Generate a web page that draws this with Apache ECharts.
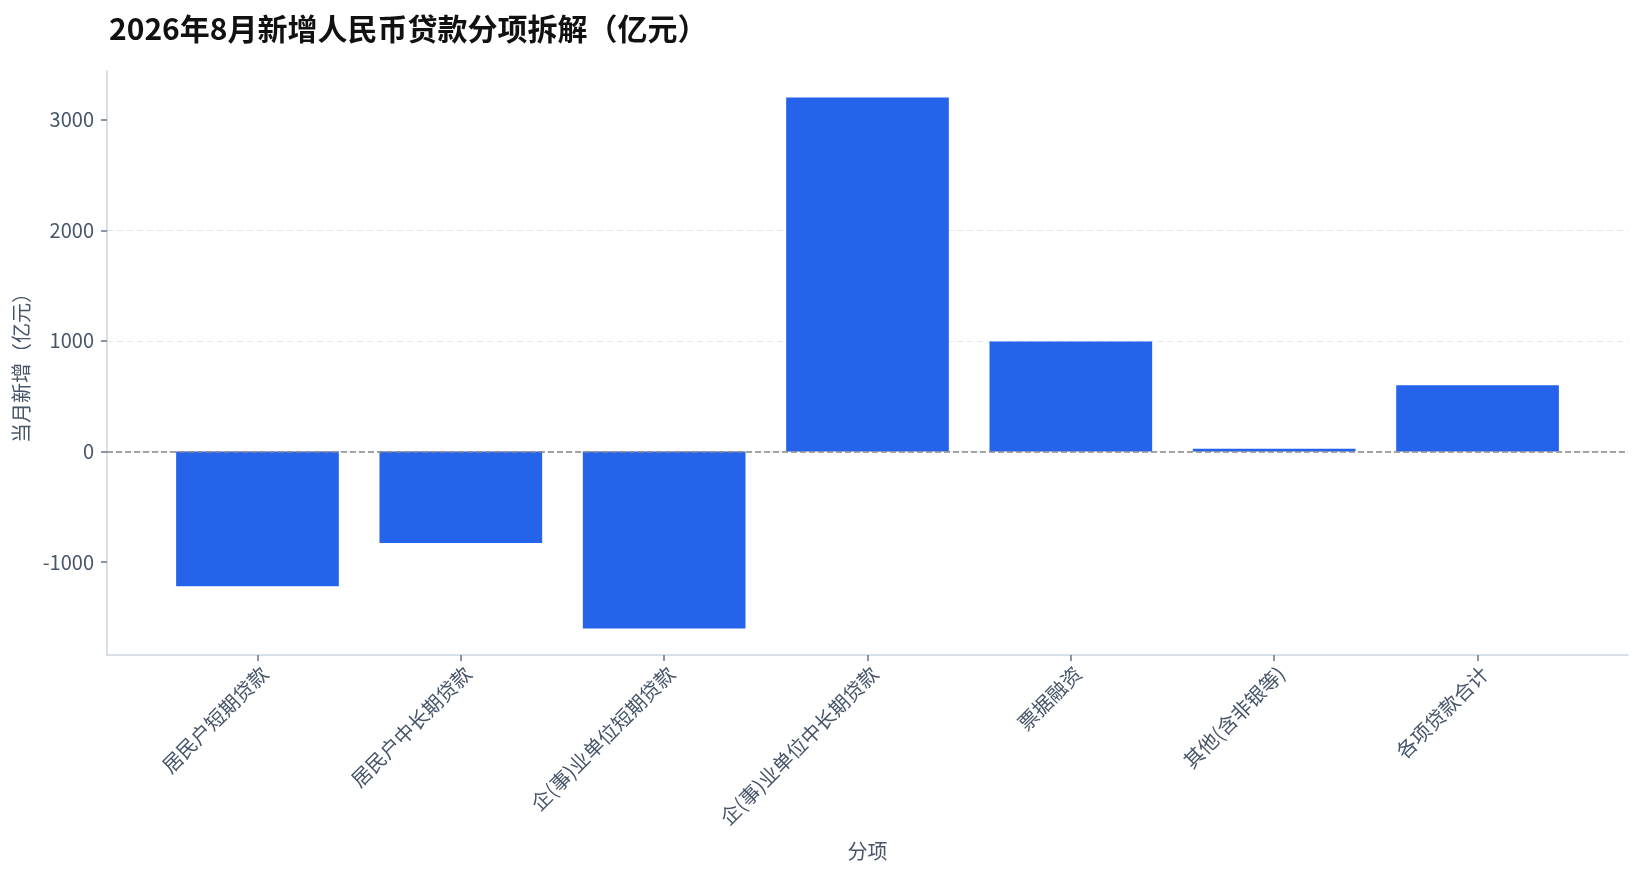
<!DOCTYPE html>
<html>
<head>
<meta charset="utf-8">
<script src="https://cdn.jsdelivr.net/npm/echarts@6/dist/echarts.min.js"></script>
<style>
html,body{margin:0;padding:0;background:#fff;}
#chart{width:1641px;height:878px;}
</style>
</head>
<body>
<div id="chart"></div>
<script>
const categories = ['居民户短期贷款','居民户中长期贷款','企(事)业单位短期贷款','企(事)业单位中长期贷款','票据融资','其他(含非银等)','各项贷款合计'];
const values = [-1218, -827, -1600, 3200, 995, 25, 598];
const yTicks = [-1000, 0, 1000, 2000, 3000];

const FONT = '"Noto Sans CJK SC", "Noto Sans", sans-serif';
const idx = categories.map((c, i) => i);
const chart = echarts.init(document.getElementById('chart'));
chart.setOption({
  backgroundColor: '#ffffff',
  animation: false,
  title: {
    text: '2026年8月新增人民币贷款分项拆解（亿元）',
    left: 104, top: 9,
    textStyle: { fontFamily: FONT, fontSize: 30, fontWeight: 'bold', color: '#111111' }
  },
  grid: { left: 107, right: 13, top: 71, bottom: 223, containLabel: false },
  xAxis: {
    type: 'value', min: -0.74, max: 6.74,
    name: '分项', nameLocation: 'middle', nameGap: 186,
    nameTextStyle: { fontFamily: FONT, fontSize: 20, color: '#475569' },
    axisLine: { show: true, onZero: false, lineStyle: { color: '#cbd5e1', width: 1.5 } },
    axisTick: { show: true, customValues: idx, length: 6, lineStyle: { color: '#64748b', width: 1.5 } },
    axisLabel: {
      customValues: idx, rotate: 45, margin: 8, verticalAlign: 'top',
      formatter: v => categories[Math.round(v)],
      fontFamily: FONT, fontSize: 20, color: '#475569'
    },
    splitLine: { show: false }
  },
  yAxis: {
    type: 'value', min: -1840, max: 3440,
    name: '当月新增（亿元）', nameLocation: 'middle', nameGap: 72, nameRotate: 90,
    nameTextStyle: { fontFamily: FONT, fontSize: 20, color: '#475569' },
    axisLine: { show: true, onZero: false, lineStyle: { color: '#cbd5e1', width: 1.5 } },
    axisTick: { show: true, customValues: yTicks, length: 6, lineStyle: { color: '#64748b', width: 1.5 } },
    axisLabel: {
      customValues: yTicks, margin: 13,
      formatter: v => String(v),
      fontFamily: FONT, fontSize: 20, color: '#475569'
    },
    splitLine: { show: true, showMinLine: false, showMaxLine: false, lineStyle: { color: '#e5e7eb', type: [6, 4], width: 1.2 } }
  },
  series: [{
    type: 'bar',
    data: values.map((v, i) => [i, v]),
    barWidth: '80%',
    itemStyle: { color: '#2563eb' },
    markLine: {
      silent: true, symbol: 'none',
      label: { show: false },
      lineStyle: { color: '#888888', type: [6, 3], width: 1.5 },
      data: [{ yAxis: 0 }]
    }
  }]
});
</script>
</body>
</html>
